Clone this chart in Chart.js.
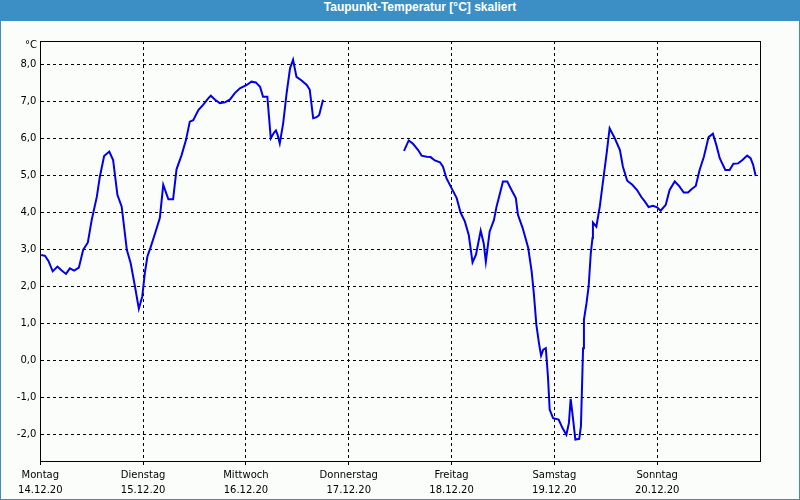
<!DOCTYPE html>
<html>
<head>
<meta charset="utf-8">
<script src="https://cdn.jsdelivr.net/npm/chart.js@4/dist/chart.umd.min.js"></script>
<style>
  html, body { margin:0; padding:0; }
  body { width:800px; height:500px; background:#3c8fc4; position:relative; overflow:hidden; }
  #title { position:absolute; left:0; top:0; width:800px; height:21px; line-height:21px;
           color:#fff; font:bold 12px 'Liberation Sans', sans-serif; text-align:center;
           padding-left:40px; box-sizing:border-box; }
  #wrap { position:absolute; left:1px; top:21px; width:798px; height:478px; background:#fbfdfb; }
  #unit { position:absolute; left:24px; top:18px; font:10px 'DejaVu Sans', sans-serif; color:#000; }
  canvas { position:absolute; left:0; top:0; }
</style>
</head>
<body>
<div id="title">Taupunkt-Temperatur [°C] skaliert</div>
<div id="wrap">
  <canvas id="c" width="798" height="478"></canvas>
  <div id="unit">°C</div>
</div>
<script>
// Hours since Monday 14.12.20 00:00
const hours = [
  0.2,1.1,1.9,2.9,4.0,5.0,6.0,6.9,7.9,9.0,10.0,11.1,12.0,13.2,13.9,14.9,16.1,17.0,18.0,19.0,
  20.2,21.1,22.1,23.0,23.8,24.4,25.0,25.8,26.8,27.9,28.7,29.9,31.0,31.8,33.0,34.0,34.9,35.7,
  36.9,38.0,39.2,39.8,40.8,41.9,43.1,44.3,45.4,46.6,48.2,49.3,50.3,51.3,52.0,53.0,53.8,54.5,
  55.0,55.4,55.9,56.7,57.5,58.3,59.0,59.8,61.0,62.2,62.9,63.7,64.5,65.1,66.0,
  75.0,
  84.9,86.0,87.0,88.2,89.0,90.2,91.1,92.1,93.3,94.0,94.8,96.0,97.2,98.1,99.1,100.0,100.9,
  101.7,102.8,103.5,104.0,104.9,105.9,106.5,107.5,108.0,109.0,110.0,111.0,111.5,112.6,113.9,
  114.7,115.2,115.8,116.4,116.9,117.4,118.0,118.5,118.9,119.7,121.0,121.9,122.8,123.4,123.8,
  124.2,124.9,125.8,126.2,126.7,126.9,127.5,128.0,128.5,128.9,129.0,129.8,130.6,131.5,132.2,
  132.9,134.1,135.3,136.0,137.0,138.2,139.3,140.3,141.1,142.0,143.0,144.0,144.8,146.0,146.9,
  148.1,149.1,150.2,151.2,152.0,153.0,153.9,154.9,156.0,157.0,157.8,158.6,159.9,160.9,161.8,
  162.9,163.9,165.0,165.8,166.4,167.0
];
const dewpoint = [
  2.84,2.82,2.68,2.40,2.53,2.42,2.33,2.48,2.42,2.50,2.98,3.18,3.79,4.42,4.96,5.52,5.64,5.41,4.47,4.15,
  2.98,2.62,1.99,1.39,1.72,2.35,2.80,3.07,3.43,3.84,4.74,4.35,4.35,5.16,5.55,5.95,6.45,6.49,
  6.76,6.90,7.08,7.15,7.04,6.95,6.97,7.05,7.22,7.35,7.44,7.53,7.51,7.39,7.12,7.12,6.00,6.14,
  6.21,6.09,5.86,6.41,7.22,7.89,8.12,7.66,7.56,7.44,7.31,6.54,6.57,6.63,7.04,
  null,
  5.66,5.94,5.85,5.68,5.53,5.50,5.49,5.40,5.35,5.23,4.92,4.65,4.38,3.99,3.75,3.39,2.64,
  2.85,3.50,3.16,2.66,3.48,3.79,4.15,4.60,4.83,4.83,4.60,4.38,3.93,3.57,3.03,
  2.39,1.81,0.95,0.46,0.12,0.28,0.32,-0.44,-1.34,-1.57,-1.61,-1.84,-2.02,-1.70,-1.05,
  -1.43,-2.15,-2.13,-1.79,0.32,1.09,1.54,1.99,2.89,3.30,3.72,3.61,4.15,4.96,5.59,
  6.27,6.00,5.68,5.23,4.85,4.74,4.60,4.41,4.29,4.14,4.17,4.13,4.04,4.20,4.60,
  4.83,4.71,4.53,4.53,4.62,4.71,5.14,5.50,6.03,6.12,5.82,5.46,5.14,5.14,5.31,
  5.32,5.41,5.53,5.46,5.28,4.98
];
const dayNames = ['Montag','Dienstag','Mittwoch','Donnerstag','Freitag','Samstag','Sonntag'];
const dayDates = ['14.12.20','15.12.20','16.12.20','17.12.20','18.12.20','19.12.20','20.12.20'];
const yTicks = [-2,-1,0,1,2,3,4,5,6,7,8];

const points = hours.map((h,i) => ({x:h, y:dewpoint[i]}));

const frame = {
  id:'frame',
  afterDraw(chart){
    const {ctx, chartArea:a} = chart;
    ctx.save();
    ctx.strokeStyle = '#000';
    ctx.lineWidth = 1;
    ctx.strokeRect(Math.round(a.left)+0.5, Math.round(a.top)+0.5,
                   Math.round(a.right-a.left), Math.round(a.bottom-a.top));
    ctx.restore();
  }
};

new Chart(document.getElementById('c'), {
  type:'line',
  data:{ datasets:[{
    data: points,
    borderColor:'#0000ee',
    borderWidth:2,
    pointRadius:0,
    tension:0,
    spanGaps:false,
    fill:false
  }]},
  options:{
    responsive:false,
    animation:false,
    events:[],
    layout:{ padding:{ top:20, right:39, left:0, bottom:0 } },
    plugins:{ legend:{display:false}, tooltip:{enabled:false}, title:{display:false} },
    scales:{
      x:{
        type:'linear', min:0, max:168,
        afterFit(s){ s.height = 38; },
        afterBuildTicks(s){ s.ticks = dayNames.map((d,i)=>({value:i*24})); },
        grid:{ color:'#000', lineWidth:1, drawTicks:true, tickLength:4, tickColor:'#000',
               tickBorderDash:[], tickWidth:1 },
        border:{ display:true, color:'#000', dash:[3,3] },
        ticks:{
          color:'#000', padding:3, maxRotation:0, autoSkip:false,
          font:{ family:'DejaVu Sans', size:10, lineHeight:1.5 },
          callback(v){ const i = Math.round(v/24); return [dayNames[i], dayDates[i]]; }
        }
      },
      y:{
        type:'linear', min:-2.73, max:8.63,
        afterFit(s){ s.width = 39.3; },
        afterBuildTicks(s){ s.ticks = yTicks.map(v=>({value:v})); },
        grid:{ color:'#000', lineWidth:1, drawTicks:false, tickLength:0 },
        border:{ display:true, color:'#000', dash:[3,3] },
        ticks:{
          color:'#000', padding:4,
          font:{ family:'DejaVu Sans', size:10 },
          callback(v){ return v.toFixed(1).replace('.', ','); }
        }
      }
    }
  },
  plugins:[frame]
});
</script>
</body>
</html>
